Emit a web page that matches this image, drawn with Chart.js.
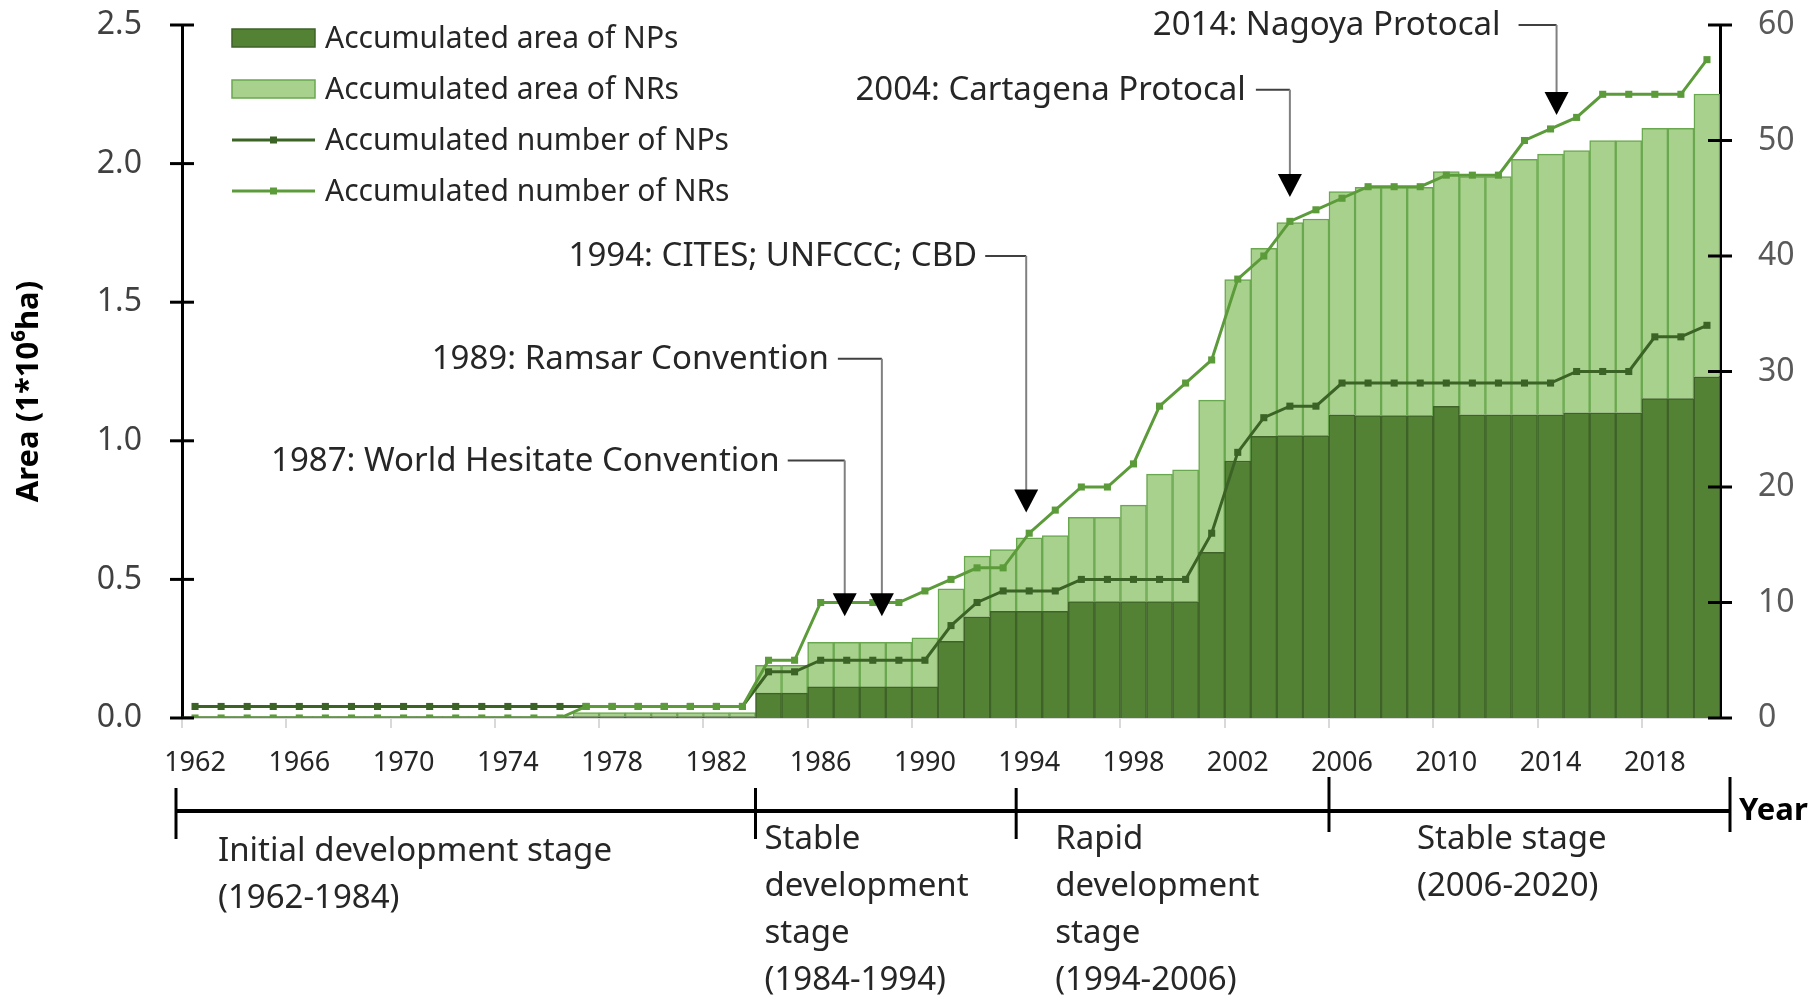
<!DOCTYPE html>
<html>
<head>
<meta charset="utf-8">
<title>Accumulated area and number of NPs and NRs</title>
<script src="https://cdn.jsdelivr.net/npm/chart.js@4.4.1/dist/chart.umd.min.js"></script>
<style>
  html, body { margin: 0; padding: 0; background: #fff; }
  #wrap { width: 1818px; height: 1001px; }
</style>
</head>
<body>
<div id="wrap"><canvas id="mainChart" width="1818" height="1001"></canvas></div>
<script>
// Accumulated area (stacked bars) and number (lines) of NPs and NRs, 1962-2020

const years = [
    1962, 1963, 1964, 1965, 1966, 1967, 1968, 1969, 1970, 1971,
    1972, 1973, 1974, 1975, 1976, 1977, 1978, 1979, 1980, 1981,
    1982, 1983, 1984, 1985, 1986, 1987, 1988, 1989, 1990, 1991,
    1992, 1993, 1994, 1995, 1996, 1997, 1998, 1999, 2000, 2001,
    2002, 2003, 2004, 2005, 2006, 2007, 2008, 2009, 2010, 2011,
    2012, 2013, 2014, 2015, 2016, 2017, 2018, 2019, 2020
];

// area, 1*10^6 ha
const npArea = [
    0.005, 0.005, 0.005, 0.005, 0.005, 0.005, 0.005, 0.005, 0.005, 0.005,
    0.005, 0.005, 0.005, 0.005, 0.005, 0.005, 0.005, 0.005, 0.005, 0.005,
    0.005, 0.005, 0.09, 0.09, 0.112, 0.112, 0.112, 0.112, 0.112, 0.277,
    0.365, 0.385, 0.385, 0.385, 0.42, 0.42, 0.42, 0.42, 0.42, 0.598,
    0.927, 1.016, 1.019, 1.019, 1.094, 1.091, 1.091, 1.091, 1.124, 1.094,
    1.094, 1.094, 1.094, 1.101, 1.101, 1.101, 1.152, 1.152, 1.231
];
const nrArea = [
    0, 0, 0, 0, 0, 0, 0, 0, 0, 0,
    0, 0, 0, 0, 0, 0.015, 0.015, 0.015, 0.015, 0.015,
    0.015, 0.015, 0.10, 0.10, 0.161, 0.161, 0.161, 0.161, 0.177, 0.189,
    0.219, 0.223, 0.265, 0.273, 0.304, 0.304, 0.348, 0.46, 0.475, 0.549,
    0.655, 0.678, 0.768, 0.781, 0.805, 0.823, 0.823, 0.823, 0.847, 0.859,
    0.859, 0.921, 0.940, 0.946, 0.982, 0.982, 0.975, 0.975, 1.020
];

// number of sites
const npCount = [
    1, 1, 1, 1, 1, 1, 1, 1, 1, 1,
    1, 1, 1, 1, 1, 1, 1, 1, 1, 1,
    1, 1, 4, 4, 5, 5, 5, 5, 5, 8,
    10, 11, 11, 11, 12, 12, 12, 12, 12, 16,
    23, 26, 27, 27, 29, 29, 29, 29, 29, 29,
    29, 29, 29, 30, 30, 30, 33, 33, 34
];
const nrCount = [
    0, 0, 0, 0, 0, 0, 0, 0, 0, 0,
    0, 0, 0, 0, 0, 1, 1, 1, 1, 1,
    1, 1, 5, 5, 10, 10, 10, 10, 11, 12,
    13, 13, 16, 18, 20, 20, 22, 27, 29, 31,
    38, 40, 43, 44, 45, 46, 46, 46, 47, 47,
    47, 50, 51, 52, 54, 54, 54, 54, 57
];

const areaTicks = [0, 0.5, 1.0, 1.5, 2.0, 2.5];
const countTicks = [0, 10, 20, 30, 40, 50, 60];

const eventYears = [1987, 1989, 1994, 2004, 2014];
const eventLabels = [
    '1987: World Hesitate Convention',
    '1989: Ramsar Convention',
    '1994: CITES; UNFCCC; CBD',
    '2004: Cartagena Protocal',
    '2014: Nagoya Protocal'
];

const stageYears = [1962, 1984, 1994, 2006];
const stageLabels = [
    ['Initial development stage', '(1962-1984)'],
    ['Stable', 'development', 'stage', '(1984-1994)'],
    ['Rapid', 'development', 'stage', '(1994-2006)'],
    ['Stable stage', '(2006-2020)']
];

// ---- layout for the drawn extras (not data) ----
const FONT = "'Noto Sans', sans-serif";
const TEXT = '#262626';

// arrow shift (px), connector length, gap to text, text / tip height on count axis
const eventLayout = [
    { dx: -2, lead: 57, gap: 8, textAt: 22.3, tipAt: 8.8 },
    { dx: -17, lead: 44, gap: 9, textAt: 31.1, tipAt: 8.8 },
    { dx: -3, lead: 41, gap: 8, textAt: 40.0, tipAt: 17.8 },
    { dx: 0, lead: 34, gap: 10, textAt: 54.4, tipAt: 45.1 },
    { dx: 6, lead: 38, gap: 18, textAt: 60, tipAt: 52.2 }
];
const stageLayout = [
    { dx: 36, first: 41 },
    { dx: 9, first: 29 },
    { dx: 39, first: 29 },
    { dx: 88, first: 29 }
];

Chart.defaults.font.family = FONT;

const overlay = {
    id: 'overlay',
    afterDraw(chart) {
        const ctx = chart.ctx;
        const area = chart.chartArea;
        const xs = chart.scales.x;
        const yL = chart.scales.y;
        const yR = chart.scales.y1;
        const step = xs.getPixelForValue(1) - xs.getPixelForValue(0);
        const edge = i => xs.getPixelForValue(i) - step / 2;

        const seg = (x1, y1, x2, y2) => {
            ctx.beginPath();
            ctx.moveTo(x1, y1);
            ctx.lineTo(x2, y2);
            ctx.stroke();
        };

        ctx.save();

        // tick marks crossing both value axes
        ctx.strokeStyle = '#000';
        ctx.lineWidth = 3;
        areaTicks.forEach(v => {
            const y = yL.getPixelForValue(v);
            seg(area.left - 12, y, area.left + 12, y);
        });
        countTicks.forEach(v => {
            const y = yR.getPixelForValue(v);
            seg(area.right - 12, y, area.right + 12, y);
        });

        // legend
        const lx = 232, lw = 83;
        ctx.font = '30px ' + FONT;
        ctx.textBaseline = 'middle';
        ctx.textAlign = 'left';
        chart.data.datasets.forEach((ds, i) => {
            const y = 38 + i * 51;
            if (ds.type === 'line') {
                ctx.strokeStyle = ds.borderColor;
                ctx.lineWidth = 3;
                seg(lx, y, lx + lw, y);
                ctx.fillStyle = ds.borderColor;
                ctx.fillRect(lx + lw / 2 - 3.5, y - 3.5, 7, 7);
            } else {
                ctx.fillStyle = ds.backgroundColor;
                ctx.fillRect(lx, y - 9, lw, 18);
                ctx.strokeStyle = ds.borderColor;
                ctx.lineWidth = 1.5;
                ctx.strokeRect(lx, y - 9, lw, 18);
            }
            ctx.fillStyle = TEXT;
            ctx.fillText(ds.label, lx + lw + 10, y + 1);
        });

        // event annotations with arrows
        ctx.font = '33px ' + FONT;
        eventYears.forEach((yr, i) => {
            const lay = eventLayout[i];
            const ax = xs.getPixelForValue(years.indexOf(yr)) + lay.dx;
            const ty = yR.getPixelForValue(lay.textAt);
            const tip = yR.getPixelForValue(lay.tipAt);
            ctx.strokeStyle = '#404040';
            ctx.lineWidth = 2;
            seg(ax - lay.lead, ty, ax, ty);
            ctx.strokeStyle = '#808080';
            seg(ax, ty, ax, tip - 22);
            ctx.fillStyle = '#000';
            ctx.beginPath();
            ctx.moveTo(ax - 12, tip - 23);
            ctx.lineTo(ax + 12, tip - 23);
            ctx.lineTo(ax, tip);
            ctx.closePath();
            ctx.fill();
            ctx.fillStyle = TEXT;
            ctx.textAlign = 'right';
            ctx.fillText(eventLabels[i], ax - lay.lead - lay.gap, ty + 1);
        });

        // development stage timeline
        const ty = area.bottom + 93;
        const cuts = stageYears.map(yr => edge(years.indexOf(yr)));
        const x0 = cuts[0] - 6;
        const x1 = edge(years.length) + 10;
        ctx.strokeStyle = '#000';
        ctx.lineWidth = 4;
        seg(x0, ty, x1, ty);
        ctx.lineWidth = 3;
        [x0, cuts[1], cuts[2]].forEach(x => seg(x, ty - 23, x, ty + 28));
        [cuts[3], x1].forEach(x => seg(x, ty - 34, x, ty + 21));

        ctx.fillStyle = '#000';
        ctx.textAlign = 'left';
        ctx.font = 'bold 31px ' + FONT;
        ctx.fillText('Year', x1 + 9, ty);

        ctx.fillStyle = TEXT;
        ctx.font = '33px ' + FONT;
        stageLabels.forEach((lines, i) => {
            const lay = stageLayout[i];
            const sx = (i === 0 ? area.left : cuts[i]) + lay.dx;
            lines.forEach((t, k) => ctx.fillText(t, sx, ty + lay.first + k * 47));
        });

        // left axis title
        ctx.save();
        ctx.translate(29, (area.top + area.bottom) / 2 + 20);
        ctx.rotate(-Math.PI / 2);
        ctx.textAlign = 'center';
        ctx.fillStyle = '#000';
        ctx.font = 'bold 31px ' + FONT;
        ctx.fillText('Area (1*10\u2076ha)', 0, 0);
        ctx.restore();

        ctx.restore();
    }
};

// keep value axes from reserving room for half tick labels
const noPad = s => {
    s.paddingTop = 0;
    s.paddingBottom = 0;
};

const chartCtx = document.getElementById('mainChart');
new Chart(chartCtx, {
    type: 'bar',
    data: {
        labels: years.map(String),
        datasets: [
            {
                label: 'Accumulated area of NPs',
                data: npArea,
                yAxisID: 'y',
                backgroundColor: '#548235',
                borderColor: '#3e6228',
                borderWidth: 1.5,
                barPercentage: 1,
                categoryPercentage: 1,
                order: 2
            },
            {
                label: 'Accumulated area of NRs',
                data: nrArea,
                yAxisID: 'y',
                backgroundColor: '#a9d18e',
                borderColor: '#6aa84f',
                borderWidth: 1.5,
                barPercentage: 1,
                categoryPercentage: 1,
                order: 2
            },
            {
                type: 'line',
                label: 'Accumulated number of NPs',
                data: npCount,
                yAxisID: 'y1',
                borderColor: '#3b6326',
                backgroundColor: '#3b6326',
                borderWidth: 3,
                pointStyle: 'rect',
                pointRadius: 5,
                pointBorderWidth: 0,
                tension: 0,
                fill: false,
                order: 1
            },
            {
                type: 'line',
                label: 'Accumulated number of NRs',
                data: nrCount,
                yAxisID: 'y1',
                borderColor: '#5c9b3a',
                backgroundColor: '#5c9b3a',
                borderWidth: 3,
                pointStyle: 'rect',
                pointRadius: 5,
                pointBorderWidth: 0,
                tension: 0,
                fill: false,
                order: 0
            }
        ]
    },
    options: {
        responsive: false,
        devicePixelRatio: 1,
        animation: false,
        layout: {
            autoPadding: false,
            padding: { top: 25, left: 0, right: 0, bottom: 0 }
        },
        plugins: {
            legend: { display: false },
            tooltip: { enabled: false }
        },
        scales: {
            x: {
                type: 'category',
                stacked: true,
                offset: true,
                grid: {
                    offset: true,
                    drawOnChartArea: false,
                    drawTicks: true,
                    tickLength: 10,
                    lineWidth: 2,
                    color: c => (c.index % 4 === 0 ? '#d9d9d9' : 'rgba(0,0,0,0)')
                },
                border: { color: '#d9d9d9', width: 2 },
                ticks: {
                    autoSkip: false,
                    maxRotation: 0,
                    minRotation: 0,
                    padding: 19,
                    color: TEXT,
                    font: { size: 27 },
                    callback: (v, i) => (i % 4 === 0 ? String(years[i]) : '')
                },
                afterFit: s => {
                    s.height = 283;
                    s.paddingLeft = 0;
                    s.paddingRight = 0;
                }
            },
            y: {
                position: 'left',
                stacked: true,
                min: 0,
                max: 2.5,
                afterBuildTicks: s => { s.ticks = areaTicks.map(v => ({ value: v })); },
                ticks: {
                    color: '#404040',
                    padding: 40,
                    font: { size: 32 },
                    callback: v => Number(v).toFixed(1)
                },
                grid: { display: false, drawTicks: false },
                border: { color: '#000', width: 3 },
                afterFit: s => {
                    s.width = 182;
                    noPad(s);
                }
            },
            y1: {
                position: 'right',
                min: 0,
                max: 60,
                afterBuildTicks: s => { s.ticks = countTicks.map(v => ({ value: v })); },
                ticks: {
                    color: '#595959',
                    padding: 38,
                    font: { size: 32 }
                },
                grid: { display: false, drawTicks: false },
                border: { color: '#000', width: 3 },
                afterFit: s => {
                    s.width = 98;
                    noPad(s);
                }
            }
        }
    },
    plugins: [overlay]
});
</script>
</body>
</html>
